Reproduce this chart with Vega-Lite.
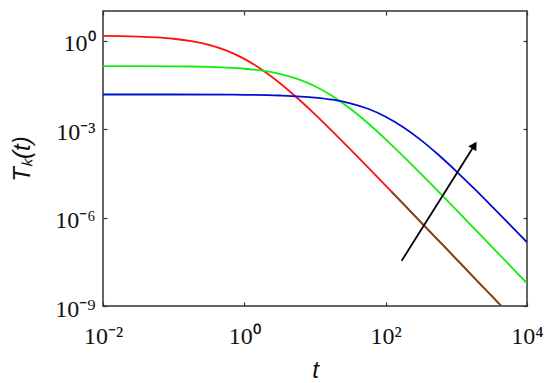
{
  "$schema": "https://vega.github.io/schema/vega-lite/v6.json",
  "width": 424,
  "height": 295,
  "autosize": {"type": "none"},
  "padding": {"left": 103, "top": 11, "right": 23, "bottom": 77},
  "background": "white",
  "config": {
    "view": {"stroke": "#333", "strokeWidth": 1.5},
    "axis": {
      "domain": false, "grid": false, "tickColor": "#333", "tickSize": -4, "tickWidth": 1.2, "labelFlush": false,
      "labelFont": "Liberation Serif", "labelFontSize": 24, "labelColor": "#111",
      "titleFont": "Liberation Sans", "titleFontStyle": "italic", "titleFontWeight": "normal",
      "titleFontSize": 24, "titleColor": "#111"
    }
  },
  "datasets": {
    "curves": [
      {"s": "red", "t": 0.01, "T": 1.44}, {"s": "red", "t": 0.01778, "T": 1.41}, {"s": "red", "t": 0.03162, "T": 1.36},
      {"s": "red", "t": 0.05623, "T": 1.277}, {"s": "red", "t": 0.1, "T": 1.146}, {"s": "red", "t": 0.1778, "T": 0.955},
      {"s": "red", "t": 0.3162, "T": 0.711}, {"s": "red", "t": 0.5623, "T": 0.453}, {"s": "red", "t": 1, "T": 0.238},
      {"s": "red", "t": 1.778, "T": 0.1023}, {"s": "red", "t": 3.162, "T": 0.0364}, {"s": "red", "t": 5.623, "T": 0.01122},
      {"s": "red", "t": 10, "T": 0.00313}, {"s": "red", "t": 17.78, "T": 0.000815}, {"s": "red", "t": 31.62, "T": 0.000204},
      {"s": "red", "t": 56.23, "T": 4.99e-5}, {"s": "red", "t": 100, "T": 1.205e-5}, {"s": "red", "t": 177.8, "T": 2.89e-6},
      {"s": "red", "t": 316.2, "T": 6.89e-7}, {"s": "red", "t": 562.3, "T": 1.637e-7}, {"s": "red", "t": 1000, "T": 3.89e-8},
      {"s": "red", "t": 1778, "T": 9.24e-9}, {"s": "red", "t": 3162, "T": 2.19e-9}, {"s": "red", "t": 5623, "T": 5.19e-10},
      {"s": "red", "t": 10000, "T": 1.23e-10},
      {"s": "green", "t": 0.01, "T": 0.1361}, {"s": "green", "t": 0.03162, "T": 0.1355}, {"s": "green", "t": 0.1, "T": 0.1334},
      {"s": "green", "t": 0.1778, "T": 0.1312}, {"s": "green", "t": 0.3162, "T": 0.1274}, {"s": "green", "t": 0.5623, "T": 0.1208},
      {"s": "green", "t": 1, "T": 0.1104}, {"s": "green", "t": 1.778, "T": 0.0947}, {"s": "green", "t": 3.162, "T": 0.0737},
      {"s": "green", "t": 5.623, "T": 0.0497}, {"s": "green", "t": 10, "T": 0.028}, {"s": "green", "t": 17.78, "T": 0.01284},
      {"s": "green", "t": 31.62, "T": 0.00485}, {"s": "green", "t": 56.23, "T": 0.001563}, {"s": "green", "t": 100, "T": 0.000448},
      {"s": "green", "t": 177.8, "T": 0.000119}, {"s": "green", "t": 316.2, "T": 3.02e-5}, {"s": "green", "t": 562.3, "T": 7.43e-6},
      {"s": "green", "t": 1000, "T": 1.8e-6}, {"s": "green", "t": 1778, "T": 4.32e-7}, {"s": "green", "t": 3162, "T": 1.03e-7},
      {"s": "green", "t": 5623, "T": 2.46e-8}, {"s": "green", "t": 10000, "T": 5.83e-9},
      {"s": "blue", "t": 0.01, "T": 0.01479}, {"s": "blue", "t": 0.1, "T": 0.01475}, {"s": "blue", "t": 1, "T": 0.01443},
      {"s": "blue", "t": 3.162, "T": 0.01368}, {"s": "blue", "t": 10, "T": 0.01165}, {"s": "blue", "t": 17.78, "T": 0.00982},
      {"s": "blue", "t": 31.62, "T": 0.00744}, {"s": "blue", "t": 56.23, "T": 0.00485}, {"s": "blue", "t": 100, "T": 0.002615},
      {"s": "blue", "t": 177.8, "T": 0.00115}, {"s": "blue", "t": 316.2, "T": 0.000419}, {"s": "blue", "t": 562.3, "T": 0.000131},
      {"s": "blue", "t": 1000, "T": 3.68e-5}, {"s": "blue", "t": 1778, "T": 9.68e-6}, {"s": "blue", "t": 3162, "T": 2.43e-6},
      {"s": "blue", "t": 5623, "T": 5.97e-7}, {"s": "blue", "t": 10000, "T": 1.44e-7}
    ],
    "brown": [
      {"t": 120, "T": 7.67e-6}, {"t": 177.8, "T": 2.89e-6}, {"t": 316.2, "T": 6.89e-7}, {"t": 562.3, "T": 1.637e-7},
      {"t": 1000, "T": 3.89e-8}, {"t": 1778, "T": 9.24e-9}, {"t": 3162, "T": 2.19e-9}, {"t": 5623, "T": 5.19e-10}
    ],
    "arrow": [
      {"t": 168, "T": 3.39e-8}, {"t": 1803, "T": 0.00028}
    ],
    "head": [
      {"t": 1803, "T": 0.00028}
    ]
  },
  "resolve": {"axis": {"x": "independent", "y": "independent"}},
  "layer": [
    {
      "data": {"name": "curves"},
      "mark": {"type": "line", "clip": true, "strokeWidth": 1.8, "interpolate": "monotone"},
      "encoding": {
        "x": {"field": "t", "type": "quantitative", "scale": {"type": "log", "domain": [0.01, 10000], "nice": false},
          "axis": {"orient": "bottom", "values": [0.01, 1, 100, 10000], "title": "t", "labelPadding": 22, "titlePadding": 10,
            "labelExpr": "datum.value < 0.1 ? '10⁻²' : datum.value < 10 ? '10⁰' : datum.value < 1000 ? '10²' : '10⁴'"}},
        "y": {"field": "T", "type": "quantitative", "scale": {"type": "log", "domain": [1e-9, 10], "nice": false},
          "axis": {"orient": "left", "values": [1e-9, 1e-6, 0.001, 1], "title": "Tₖ(t)", "labelPadding": 12, "titlePadding": 20, "labelOffset": 3,
            "labelExpr": "datum.value < 1e-8 ? '10⁻⁹' : datum.value < 1e-5 ? '10⁻⁶' : datum.value < 0.01 ? '10⁻³' : '10⁰'"}},
        "color": {"field": "s", "type": "nominal", "legend": null,
          "scale": {"domain": ["red", "green", "blue"], "range": ["#ff1010", "#10ee10", "#0010d0"]}}
      }
    },
    {
      "data": {"name": "brown"},
      "mark": {"type": "line", "clip": true, "strokeWidth": 1.8, "color": "#7a4a1a", "interpolate": "monotone"},
      "encoding": {
        "x": {"field": "t", "type": "quantitative",
          "axis": {"orient": "top", "values": [0.01, 1, 100, 10000], "labels": false, "title": null}},
        "y": {"field": "T", "type": "quantitative",
          "axis": {"orient": "right", "values": [1e-9, 1e-6, 0.001, 1], "labels": false, "title": null}}
      }
    },
    {
      "data": {"name": "arrow"},
      "mark": {"type": "line", "color": "black", "strokeWidth": 1.8},
      "encoding": {
        "x": {"field": "t", "type": "quantitative", "axis": null},
        "y": {"field": "T", "type": "quantitative", "axis": null}
      }
    },
    {
      "data": {"name": "head"},
      "mark": {"type": "point", "shape": "triangle-up", "filled": true, "color": "black", "size": 90, "angle": 32, "opacity": 1},
      "encoding": {
        "x": {"field": "t", "type": "quantitative", "axis": null},
        "y": {"field": "T", "type": "quantitative", "axis": null}
      }
    }
  ]
}
